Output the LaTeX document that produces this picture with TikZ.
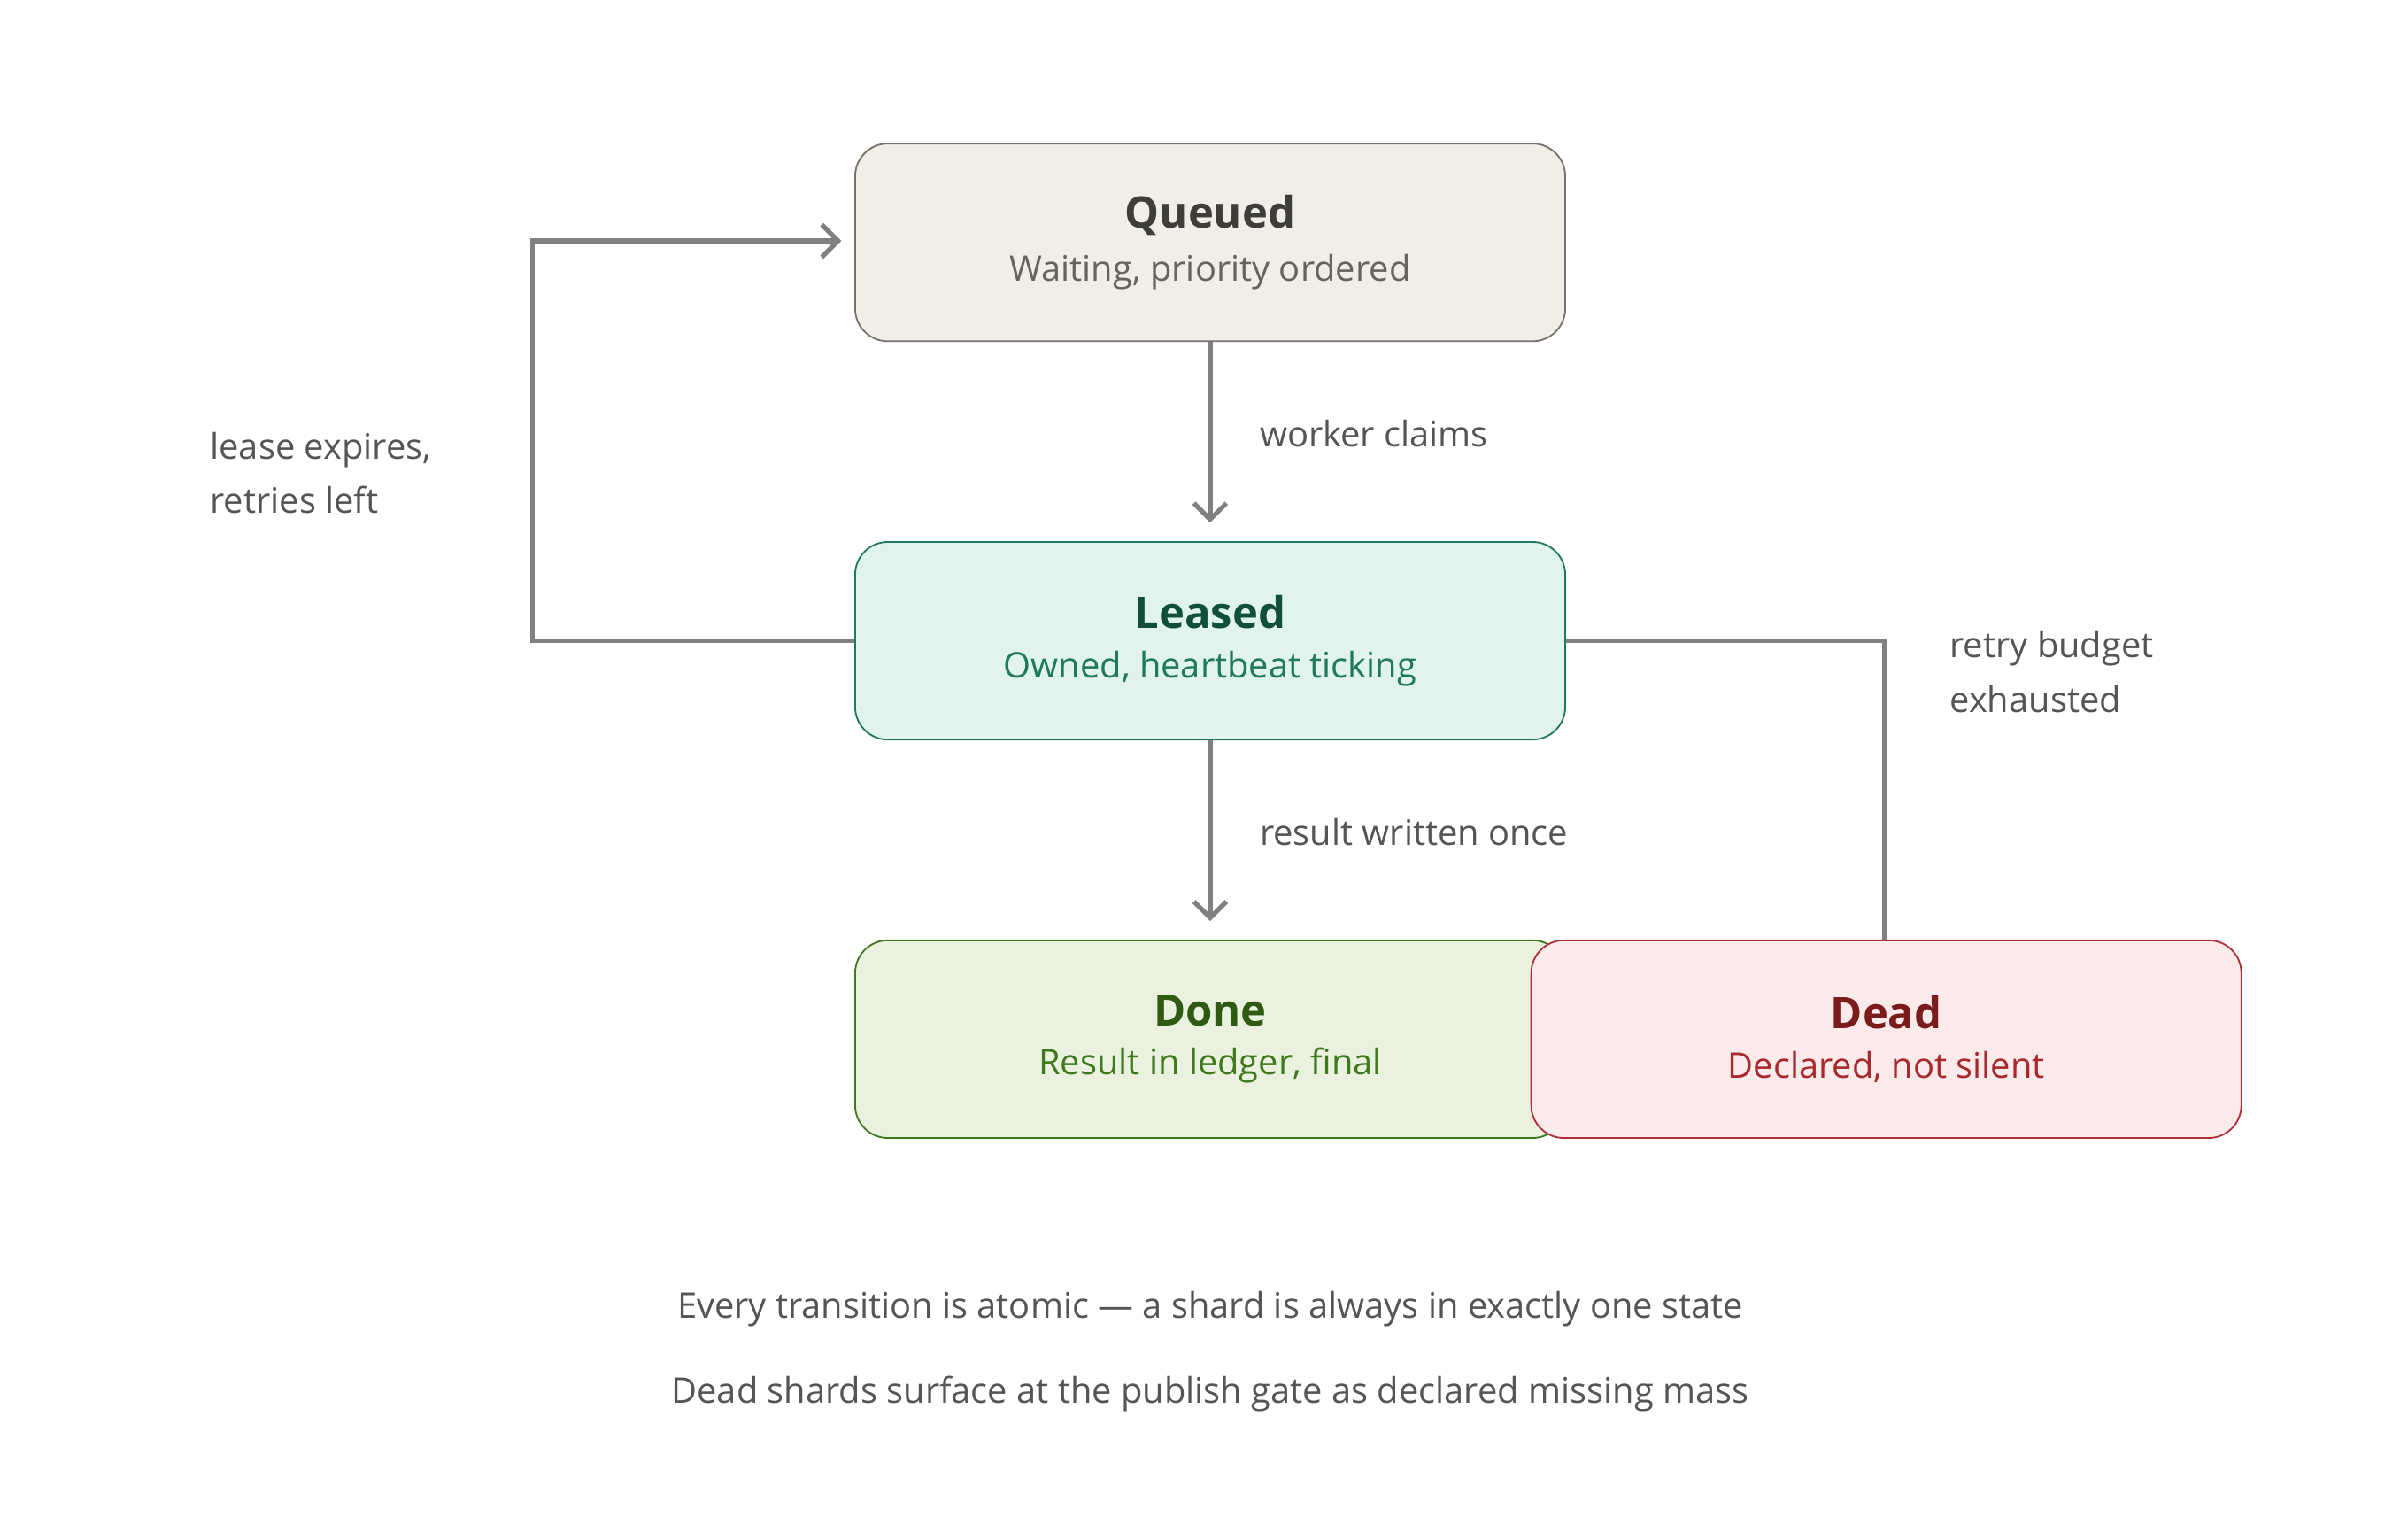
\documentclass[tikz,border=0pt]{standalone}
\usepackage{fontspec}
\setmainfont{Open Sans}
\usetikzlibrary{arrows.meta}

\definecolor{qfill}{HTML}{F1EEE8}
\definecolor{qline}{HTML}{77736C}
\definecolor{qtitle}{HTML}{3D3D3A}
\definecolor{qsub}{HTML}{66645F}
\definecolor{lfill}{HTML}{E1F3EE}
\definecolor{lline}{HTML}{1F7A5A}
\definecolor{ltitle}{HTML}{0F4F3C}
\definecolor{dfill}{HTML}{EAF2DF}
\definecolor{dline}{HTML}{3F7A1F}
\definecolor{dtitle}{HTML}{2E5A12}
\definecolor{xfill}{HTML}{FAEAEA}
\definecolor{xline}{HTML}{B0303A}
\definecolor{xtitle}{HTML}{7A1C1C}
\definecolor{xsub}{HTML}{A82A2F}
\definecolor{arr}{HTML}{808080}
\definecolor{txt}{HTML}{555555}

\tikzset{
  state/.style={draw, rounded corners=12pt, line width=0.6pt, minimum width=9.2cm,
    minimum height=2.56cm, align=center},
  flow/.style={draw=arr, line width=1.7pt, -{Straight Barb[length=6pt,width=12pt]}},
  link/.style={draw=arr, line width=1.7pt},
  note/.style={text=txt, font=\fontsize{13}{20}\selectfont, align=left},
}

\newcommand{\st}[3]{{\fontsize{16}{20}\selectfont\bfseries\color{#1}#2}\\[6pt]{\fontsize{13}{16}\selectfont\color{#1}#3}}

\begin{document}
\begin{tikzpicture}
% Canvas
\useasboundingbox (0,0) rectangle (31.2,-19.64);

% States
\node[state, fill=qfill, draw=qline] (queued) at (15.68,-3.14)
  {{\fontsize{16}{20}\selectfont\bfseries\color{qtitle}Queued}\\[6pt]{\fontsize{13}{16}\selectfont\color{qsub}Waiting, priority ordered}};
\node[state, fill=lfill, draw=lline] (leased) at (15.68,-8.3)
  {{\fontsize{16}{20}\selectfont\bfseries\color{ltitle}Leased}\\[6pt]{\fontsize{13}{16}\selectfont\color{lline}Owned, heartbeat ticking}};
\node[state, fill=dfill, draw=dline] (done) at (15.68,-13.46)
  {{\fontsize{16}{20}\selectfont\bfseries\color{dtitle}Done}\\[6pt]{\fontsize{13}{16}\selectfont\color{dline}Result in ledger, final}};
\node[state, fill=xfill, draw=xline] (dead) at (24.44,-13.46)
  {{\fontsize{16}{20}\selectfont\bfseries\color{xtitle}Dead}\\[6pt]{\fontsize{13}{16}\selectfont\color{xsub}Declared, not silent}};

% Transitions
\coordinate (loopin) at (10.9,-3.12);
\coordinate (deadtop) at (24.42,-12.18);
\draw[flow] (queued.south) -- ++(0,-2.34);
\draw[flow] (leased.south) -- ++(0,-2.34);
\draw[flow] (leased.west) -| (6.9,-3.12) -- (loopin);
\draw[link] (leased.east) -| (deadtop);

% Labels
\node[note, anchor=west] (claims) at (16.2,-5.62) {worker claims};
\node[note, anchor=west] (written) at (16.2,-10.78) {result written once};
\node[note, anchor=west] (expires) at (2.6,-6.13) {lease expires,\\retries left};
\node[note, anchor=west] (budget) at (25.14,-8.7) {retry budget\\exhausted};

% Footer
\node[note, align=center] (foot1) at (15.68,-16.96) {Every transition is atomic — a shard is always in exactly one state};
\node[note, align=center] (foot2) at (15.68,-18.06) {Dead shards surface at the publish gate as declared missing mass};
\end{tikzpicture}
\end{document}
